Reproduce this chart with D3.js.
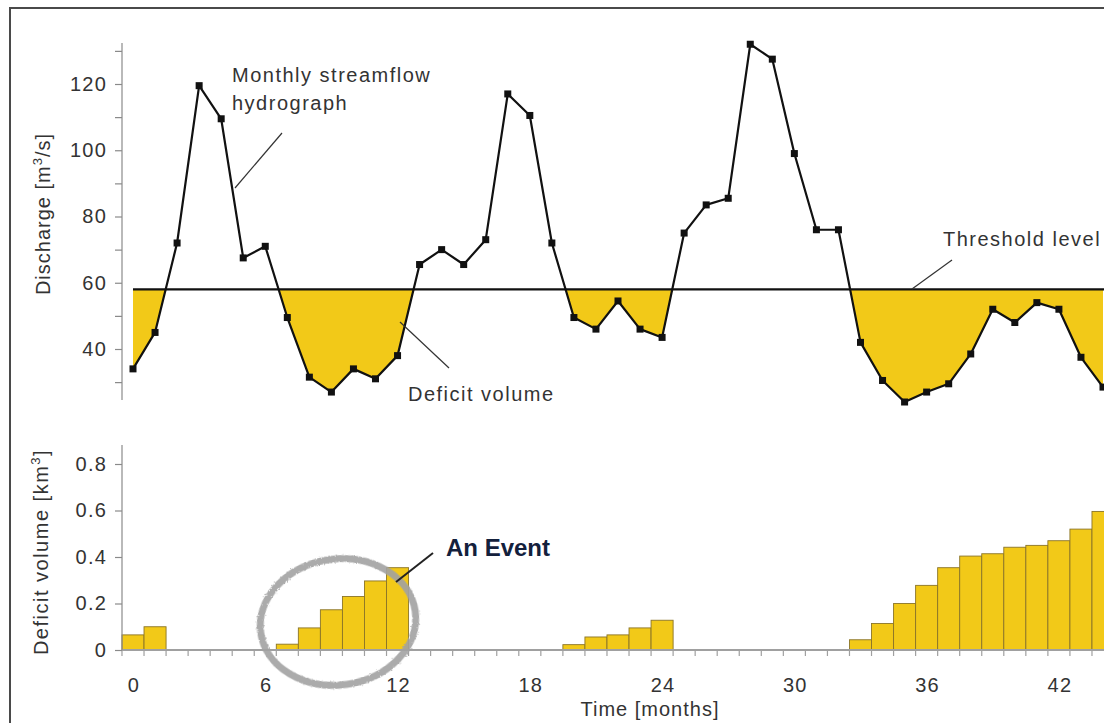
<!DOCTYPE html>
<html>
<head>
<meta charset="utf-8">
<script src="https://cdn.jsdelivr.net/npm/d3@7"></script>
<style>
  html, body { margin: 0; padding: 0; background: #fff; }
  svg { display: block; }
  text { font-family: "Liberation Sans", Arial, sans-serif; }
</style>
</head>
<body>
<svg id="chart" width="1104" height="723"></svg>
<script>
// ---- data ----
const discharge = [34, 45, 72, 119.5, 109.5, 67.5, 71, 49.5, 31.5, 27, 34, 31, 38,
  65.5, 70, 65.5, 73, 117, 110.5, 72, 49.5, 46, 54.5, 46, 43.5,
  75, 83.5, 85.5, 132, 127.5, 99, 76, 76, 42, 30.5, 24, 27, 29.5, 38.5,
  52, 48, 54, 52, 37.5, 28.5];
const deficitVolume = [0.065, 0.1, 0, 0, 0, 0, 0, 0.025, 0.095, 0.173, 0.23, 0.297, 0.354,
  0, 0, 0, 0, 0, 0, 0, 0.023, 0.056, 0.065, 0.095, 0.128,
  0, 0, 0, 0, 0, 0, 0, 0, 0.044, 0.114, 0.2, 0.278, 0.354, 0.404,
  0.414, 0.442, 0.45, 0.47, 0.52, 0.596];
const threshold = 58;
const dischargeTicks = [30, 40, 50, 60, 70, 80, 90, 100, 110, 120, 130];
const dischargeLabels = [40, 60, 80, 100, 120];
const volumeTicks = [0, 0.2, 0.4, 0.6, 0.8];
const monthLabels = [0, 6, 12, 18, 24, 30, 36, 42];

const months = discharge.map((d, i) => i);
const YELLOW = "#F2C918";
const svg = d3.select("#chart");
const defs = svg.append("defs");

// frame
svg.append("rect").attr("x", 10).attr("y", 8).attr("width", 1110).attr("height", 730)
  .attr("fill", "none").attr("stroke", "#4a4a4a").attr("stroke-width", 2);

// scales
const x = d3.scaleLinear().domain([0, 44]).range([133, 1103]);
const y = d3.scaleLinear().domain([40, 120]).range([349, 84]);
const yb = d3.scaleLinear().domain([0, 0.8]).range([650, 464]);
const axisX = 122;

// ---------- TOP PANEL ----------
const topG = svg.append("g");
defs.append("clipPath").attr("id", "below")
  .append("rect").attr("x", 0).attr("y", y(threshold)).attr("width", 1104).attr("height", 400);

const pts = months.map(m => [m, discharge[m]]);
topG.append("path")
  .datum(pts)
  .attr("clip-path", "url(#below)")
  .attr("fill", YELLOW)
  .attr("d", d3.area().x(d => x(d[0])).y0(y(threshold)).y1(d => y(d[1])));

// y axis
const yAxis = d3.axisLeft(y).tickValues(dischargeTicks).tickSize(7).tickPadding(8)
  .tickFormat(d => dischargeLabels.includes(d) ? d : "");
const ga = topG.append("g").attr("transform", `translate(${axisX},0)`).call(yAxis);
ga.select(".domain").remove();
ga.selectAll(".tick line").attr("stroke", "#8a8a8a").attr("stroke-width", 1.2);
ga.selectAll(".tick text").attr("font-size", 20).attr("fill", "#333").attr("letter-spacing", 1.2)
  .attr("font-family", "Liberation Sans, Arial, sans-serif");
topG.append("line").attr("x1", axisX).attr("x2", axisX).attr("y1", 43).attr("y2", 400)
  .attr("stroke", "#8a8a8a").attr("stroke-width", 1.2);

// threshold
topG.append("line").attr("x1", x(0)).attr("x2", 1104)
  .attr("y1", y(threshold)).attr("y2", y(threshold))
  .attr("stroke", "#111").attr("stroke-width", 2.2);

// hydrograph line + markers
topG.append("path").datum(pts).attr("fill", "none").attr("stroke", "#111")
  .attr("stroke-width", 2.2).attr("stroke-linejoin", "round")
  .attr("d", d3.line().x(d => x(d[0])).y(d => y(d[1])));
topG.selectAll("rect.pt").data(pts).join("rect").attr("class", "pt")
  .attr("x", d => x(d[0]) - 3.5).attr("y", d => y(d[1]) - 3.5)
  .attr("width", 7).attr("height", 7).attr("fill", "#111");

// axis title
topG.append("text").attr("transform", "translate(50,214) rotate(-90)")
  .attr("text-anchor", "middle").attr("font-size", 20).attr("fill", "#333").attr("letter-spacing", 1)
  .html('Discharge [m<tspan dy="-8" font-size="13">3</tspan><tspan dy="8">/s]</tspan>');

// annotations
const ann = topG.append("g").attr("fill", "#333").attr("font-size", 20).attr("letter-spacing", 1.5);
ann.append("text").attr("x", 232).attr("y", 82).text("Monthly streamflow");
ann.append("text").attr("x", 232).attr("y", 110).text("hydrograph");
ann.append("text").attr("x", 408).attr("y", 401).text("Deficit volume");
ann.append("text").attr("x", 943).attr("y", 246).text("Threshold level");
const leaders = [[282, 133, 235, 188], [400, 322, 449, 368], [952, 260, 912, 289]];
topG.selectAll("line.leader").data(leaders).join("line").attr("class", "leader")
  .attr("x1", d => d[0]).attr("y1", d => d[1]).attr("x2", d => d[2]).attr("y2", d => d[3])
  .attr("stroke", "#333").attr("stroke-width", 1.2);

// ---------- BOTTOM PANEL ----------
const bot = svg.append("g");
const bw = x(1) - x(0);
bot.selectAll("rect.bar").data(months.filter(m => deficitVolume[m] > 0)).join("rect")
  .attr("class", "bar")
  .attr("x", m => x(m) - bw / 2).attr("width", bw)
  .attr("y", m => yb(deficitVolume[m])).attr("height", m => yb(0) - yb(deficitVolume[m]))
  .attr("fill", YELLOW).attr("stroke", "#8a7428").attr("stroke-width", 0.9);

// x axis baseline and month ticks (bar edges)
bot.append("line").attr("x1", axisX).attr("x2", 1104).attr("y1", yb(0)).attr("y2", yb(0))
  .attr("stroke", "#a0a0a0").attr("stroke-width", 1.8);
const edges = months.concat([45]).map(m => m - 0.5);
bot.selectAll("line.mt").data(edges).join("line").attr("class", "mt")
  .attr("x1", d => x(d)).attr("x2", d => x(d)).attr("y1", yb(0)).attr("y2", yb(0) + 6)
  .attr("stroke", "#a0a0a0").attr("stroke-width", 1.2);
bot.selectAll("text.ml").data(monthLabels).join("text").attr("class", "ml")
  .attr("x", d => x(d) + 1).attr("y", 692).attr("text-anchor", "middle")
  .attr("font-size", 20).attr("fill", "#333").attr("letter-spacing", 1.2).text(d => d);
bot.append("text").attr("x", 650).attr("y", 716).attr("text-anchor", "middle")
  .attr("font-size", 20).attr("fill", "#333").attr("letter-spacing", 1).text("Time [months]");

// y axis
const ybAxis = d3.axisLeft(yb).tickValues(volumeTicks).tickSize(7).tickPadding(8)
  .tickFormat(d => d === 0 ? "0" : d3.format(".1f")(d));
const gb = bot.append("g").attr("transform", `translate(${axisX},0)`).call(ybAxis);
gb.select(".domain").remove();
gb.selectAll(".tick line").attr("stroke", "#8a8a8a").attr("stroke-width", 1.2);
gb.selectAll(".tick text").attr("font-size", 20).attr("fill", "#333").attr("letter-spacing", 1.2)
  .attr("font-family", "Liberation Sans, Arial, sans-serif");
bot.append("line").attr("x1", axisX).attr("x2", axisX).attr("y1", 445).attr("y2", yb(0))
  .attr("stroke", "#8a8a8a").attr("stroke-width", 1.2);
bot.append("text").attr("transform", "translate(48,552) rotate(-90)")
  .attr("text-anchor", "middle").attr("font-size", 20).attr("fill", "#333").attr("letter-spacing", 1.5)
  .html('Deficit volume [km<tspan dy="-8" font-size="13">3</tspan><tspan dy="8">]</tspan>');

// event highlight
const f = defs.append("filter").attr("id", "pencil").attr("x", "-20%").attr("y", "-20%")
  .attr("width", "140%").attr("height", "140%");
f.append("feTurbulence").attr("type", "fractalNoise").attr("baseFrequency", 0.9).attr("numOctaves", 2).attr("result", "n");
f.append("feDisplacementMap").attr("in", "SourceGraphic").attr("in2", "n").attr("scale", 3);
bot.append("ellipse").attr("cx", 338).attr("cy", 622).attr("rx", 78).attr("ry", 63)
  .attr("transform", "rotate(-8,338,622)")
  .attr("fill", "none").attr("stroke", "#a2a2a2").attr("stroke-width", 7).attr("opacity", 0.9)
  .attr("filter", "url(#pencil)");
bot.append("line").attr("x1", 433).attr("y1", 553).attr("x2", 396).attr("y2", 582)
  .attr("stroke", "#222").attr("stroke-width", 2);
bot.append("text").attr("x", 446).attr("y", 556).attr("font-family", "Open Sans, sans-serif")
  .attr("font-weight", "bold").attr("font-size", 24).attr("fill", "#13203c").text("An Event");
</script>
</body>
</html>
